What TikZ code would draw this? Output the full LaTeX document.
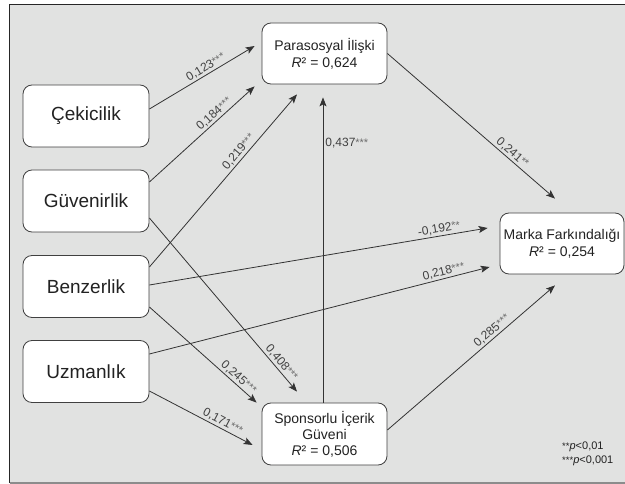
\documentclass[tikz,border=0pt]{standalone}
\usepackage{fontspec}
\setmainfont{Liberation Sans}
\usetikzlibrary{arrows.meta,calc}
\definecolor{bgcol}{HTML}{E1E2E1}
\definecolor{linecol}{HTML}{333333}
\definecolor{txtcol}{HTML}{222222}
\definecolor{labcol}{HTML}{404040}
\definecolor{starcol}{HTML}{6E6E6E}
\newcommand{\coef}[2]{{\color{labcol}#1}\raisebox{0.5pt}{\fontsize{11}{11}\selectfont\color{starcol}#2}}
\newcommand{\rsq}[1]{\textit{R}² = #1}
\begin{document}
\begin{tikzpicture}[x=1pt,y=-1pt,
  box/.style={draw=black!75, fill=white, rounded corners=9pt, line width=0.8pt,
    minimum width=126pt, minimum height=62pt, inner sep=0pt, align=center, text=txtcol},
  bigbox/.style={box, font=\fontsize{19}{22}\selectfont},
  smallbox/.style={box, font=\fontsize{14}{17}\selectfont},
  conn/.style={draw=linecol, line width=0.8pt, -{Stealth[length=9pt,width=7pt,inset=2pt]}},
  lab/.style={sloped, above, inner sep=1.5pt, font=\fontsize{12}{12}\selectfont}
]
\useasboundingbox (0,0) rectangle (625,484);
\fill[bgcol] (9.5,4.5) rectangle (626,483);
\draw[line width=1.2pt, black!85] (9.5,483) -- (9.5,4.5) -- (626,4.5);
\draw[line width=1.5pt, black!45] (9.5,483) -- (626,483);

\node[bigbox] (cek) at (86,116) {Çekicilik};
\node[bigbox] (guv) at (86,201) {Güvenirlik};
\node[bigbox] (ben) at (86,286.5) {Benzerlik};
\node[bigbox] (uzm) at (86,371.5) {Uzmanlık};
\node[smallbox, minimum width=125pt, minimum height=61pt] (par) at (324.5,53.5) {Parasosyal İlişki\\\rsq{0,624}};
\node[smallbox, minimum width=125pt] (spo) at (324.5,434) {Sponsorlu İçerik\\[-1pt]Güveni\\[-1pt]\rsq{0,506}};
\node[smallbox, minimum width=124pt, minimum height=61pt] (mar) at (562,243.5) {Marka Farkındalığı\\\rsq{0,254}};

\draw[conn] ($(cek.east)+(0,-7)$) -- node[lab,pos=0.57]{\coef{0,123}{***}} ($(par.west)+(-7,-7.5)$);
\draw[conn] ($(guv.east)+(0,-19)$) -- node[lab,pos=0.66]{\coef{0,184}{***}} ($(par.south west)+(-7,2)$);
\draw[conn] ($(ben.east)+(0,-19.5)$) -- node[lab,pos=0.64]{\coef{0,219}{***}} ($(par.south)+(-27.5,10)$);
\draw[conn] ($(spo.north)+(-1.5,0)$) -- node[right, pos=0.85, inner sep=2pt, font=\fontsize{12}{12}\selectfont]{\coef{0,437}{***}} ($(par.south)+(-1.5,13)$);
\draw[conn] (par.east) -- node[lab,pos=0.72]{\coef{0,241}{**}} ($(mar.north)+(-7,-14)$);
\draw[conn] ($(ben.east)+(0,-1.5)$) -- node[lab,pos=0.86]{\coef{-0,192}{**}} ($(mar.west)+(-12,-15.5)$);
\draw[conn] ($(uzm.east)+(0,-17.5)$) -- node[lab,pos=0.87]{\coef{0,218}{***}} ($(mar.west)+(-10,23.5)$);
\draw[conn] ($(spo.east)+(0,-4)$) -- node[lab,pos=0.65]{\coef{0,285}{***}} ($(mar.south)+(-7,11)$);
\draw[conn] ($(guv.east)+(0,17)$) -- node[lab,pos=0.86]{\coef{0,408}{***}} ($(spo.north)+(-27.5,-11)$);
\draw[conn] ($(ben.east)+(0,20.5)$) -- node[lab,pos=0.79]{\coef{0,245}{***}} ($(spo.north west)+(-5,0)$);
\draw[conn] ($(uzm.east)+(0,19.5)$) -- node[lab,pos=0.68]{\coef{0,171}{***}} ($(spo.west)+(-9,11)$);

\node[anchor=west, align=left, inner sep=0pt, font=\fontsize{11}{14}\selectfont, text=txtcol] (leg) at (562,454)
  {\raisebox{0.5pt}{\fontsize{9.5}{9.5}\selectfont **}\textit{p}<0,01\\\raisebox{0.5pt}{\fontsize{9.5}{9.5}\selectfont ***}\textit{p}<0,001};
\end{tikzpicture}
\end{document}
